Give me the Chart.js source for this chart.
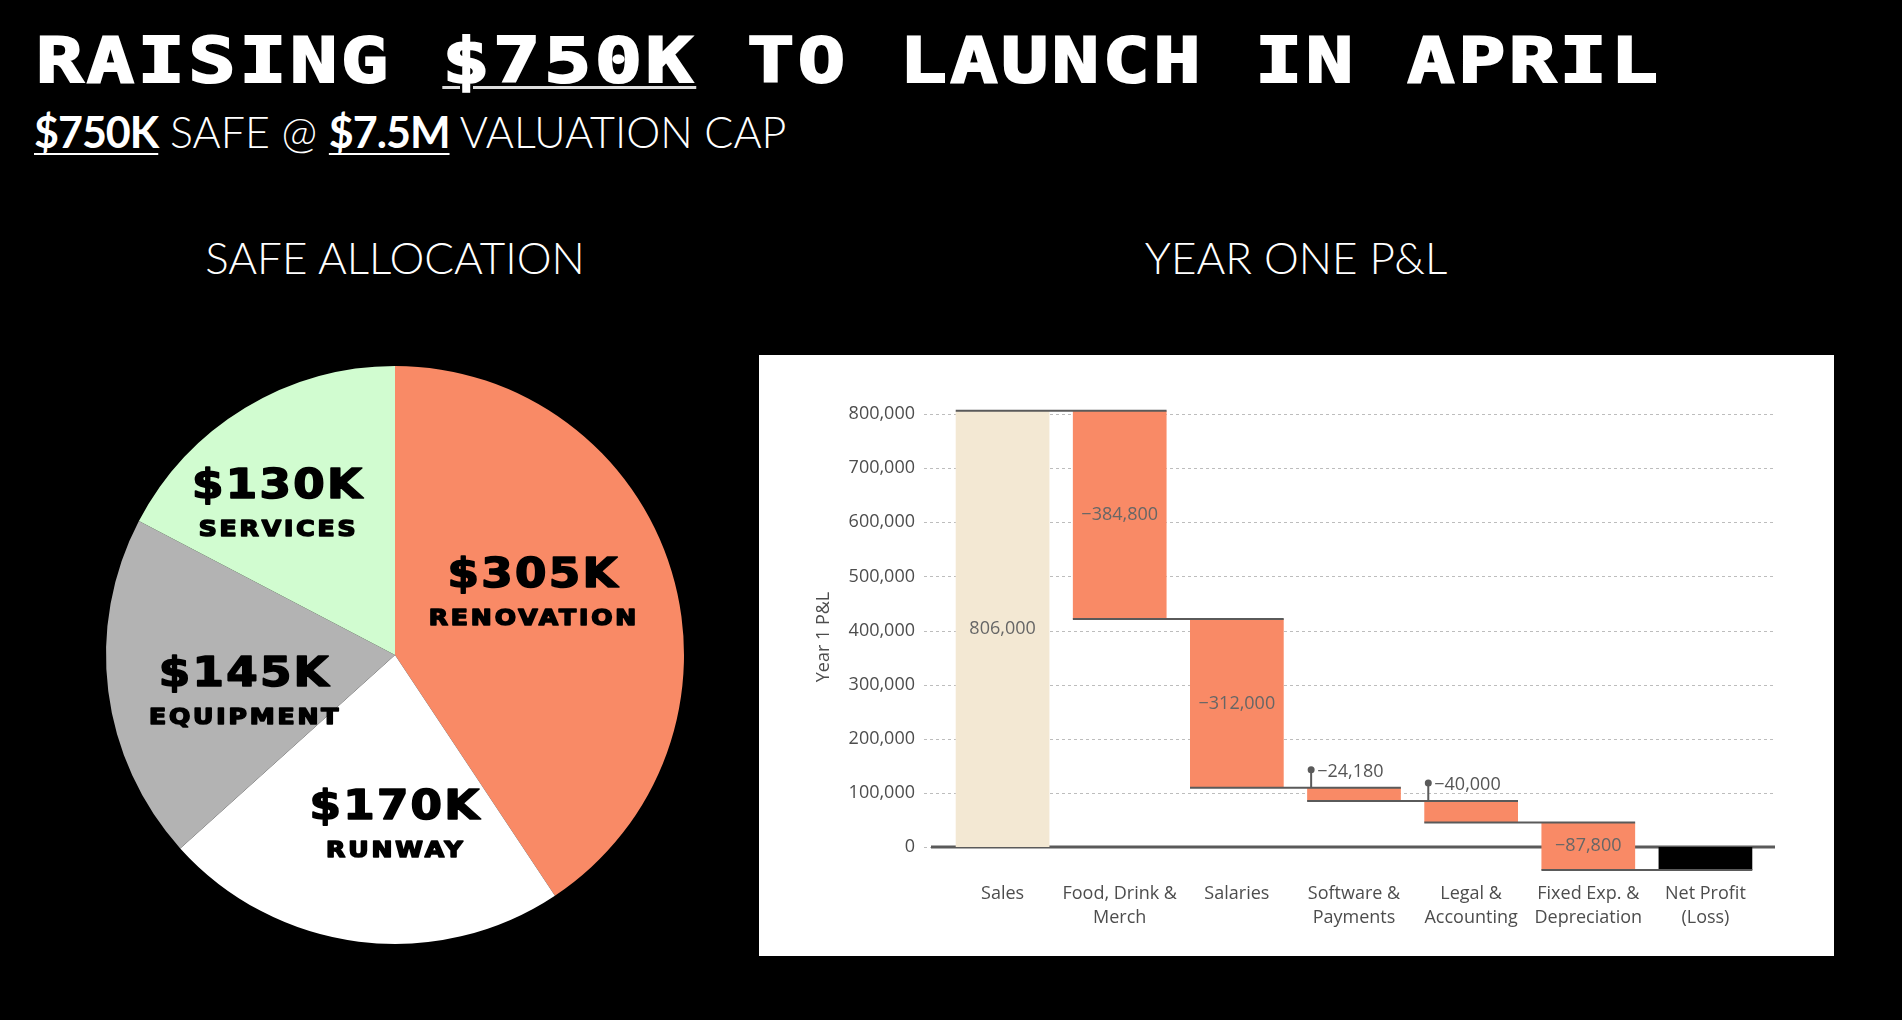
<!DOCTYPE html>
<html>
<head>
<meta charset="utf-8">
<script src="https://cdn.jsdelivr.net/npm/chart.js@4.4.1/dist/chart.umd.min.js"></script>
<style>
  html, body { margin: 0; padding: 0; background: #000; width: 1902px; height: 1020px; overflow: hidden; }
  #title {
    position: absolute; left: 36px; top: 29px; color: #fff; white-space: pre;
    font-family: 'DejaVu Sans Mono'; font-weight: bold; font-size: 63px; line-height: 1;
    letter-spacing: 2.7px; transform: scaleX(1.25); transform-origin: left top;
    -webkit-text-stroke: 2px #fff;
  }
  #title u { text-decoration-thickness: 3px; text-underline-offset: 4px; text-decoration-color: #ddd; }
  #sub {
    position: absolute; left: 34px; top: 110px; color: #fff; white-space: pre;
    font-family: Lato; font-weight: 300; font-size: 43px; line-height: 1;
  }
  #sub b { font-weight: 700; letter-spacing: -1px; text-decoration: underline; text-decoration-thickness: 2px; text-underline-offset: 5px; }
  .head {
    position: absolute; width: 600px; text-align: center; color: #fff;
    font-family: Lato; font-weight: 300; font-size: 44px; line-height: 1;
  }
  #pie { position: absolute; left: 95px; top: 355px; }
  #pl { position: absolute; left: 759px; top: 355px; background: #fff; }
</style>
</head>
<body>
<div id="title">RAISING <u>$750K</u> TO LAUNCH IN APRIL</div>
<div id="sub"><b>$750K</b> SAFE @ <b>$7.5M</b> VALUATION CAP</div>
<div class="head" style="left:95px; top:235px;">SAFE ALLOCATION</div>
<div class="head" style="left:996px; top:235px;">YEAR ONE P&amp;L</div>
<canvas id="pie" width="600" height="600"></canvas>
<canvas id="pl" width="1075" height="601"></canvas>
<script>
// SAFE allocation (in $K)
const allocNames = ['RENOVATION', 'RUNWAY', 'EQUIPMENT', 'SERVICES'];
const allocValues = [305, 170, 145, 130];
const allocColors = ['#F98A66', '#FFFFFF', '#B3B3B3', '#D1FCD0'];

// year one P&L
const plCategories = ['Sales', ['Food, Drink &', 'Merch'], 'Salaries', ['Software &', 'Payments'],
    ['Legal &', 'Accounting'], ['Fixed Exp. &', 'Depreciation'], ['Net Profit', '(Loss)']];
const plChanges = [806000, -384800, -312000, -24180, -40000, -87800];
const yTickValues = [0, 100000, 200000, 300000, 400000, 500000, 600000, 700000, 800000];

Chart.defaults.font.family = 'Open Sans';
Chart.defaults.animation = false;

// draws a heavy, slightly stretched label centred on x
function heavyText(ctx, text, x, y, size, stretch, spacing) {
    ctx.save();
    ctx.font = 'bold ' + size + 'px "DejaVu Sans"';
    ctx.letterSpacing = spacing + 'px';
    ctx.translate(x, y);
    ctx.scale(stretch, 1);
    ctx.textAlign = 'center';
    ctx.lineJoin = 'round';
    ctx.lineWidth = 1.6;
    ctx.strokeStyle = '#000';
    ctx.fillStyle = '#000';
    ctx.fillText(text, spacing / 2, 0);
    ctx.strokeText(text, spacing / 2, 0);
    ctx.restore();
}

const pieLabels = {
    id: 'pieLabels',
    afterDatasetsDraw(chart) {
        const ctx = chart.ctx;
        const dist = [0.52, 0.59, 0.54, 0.66];
        const shift = -7 * Math.PI / 180;
        chart.getDatasetMeta(0).data.forEach((arc, i) => {
            const mid = (arc.startAngle + arc.endAngle) / 2 + shift;
            const r = arc.outerRadius * dist[i];
            const cx = arc.x + Math.cos(mid) * r;
            const cy = arc.y + Math.sin(mid) * r;
            heavyText(ctx, '$' + allocValues[i] + 'K', cx, cy - 22 + 15, 40, 1.13, 2);
            heavyText(ctx, allocNames[i], cx, cy + 23 + 8, 22, 1.14, 2.5);
        });
    }
};

const pie_chart = new Chart(document.getElementById('pie').getContext('2d'), {
    type: 'pie',
    data: {
        labels: allocNames,
        datasets: [{
            data: allocValues,
            backgroundColor: allocColors,
            borderWidth: 0,
        }]
    },
    options: {
        responsive: false,
        devicePixelRatio: 1,
        layout: { padding: 11 },
        plugins: { legend: { display: false }, tooltip: { enabled: false } }
    },
    plugins: [pieLabels]
});

// floating bars for the waterfall
let running = 0;
const plBars = plChanges.map(v => {
    const b = [running, running + v];
    running += v;
    return b;
});
plBars.push([0, running]);
const plColors = plBars.map((b, i) => i === 0 ? '#F3E8D3' : (i === plBars.length - 1 ? '#000000' : '#F98A66'));

function fmt(v) {
    const s = Math.abs(v).toLocaleString('en-US');
    return v < 0 ? '\u2212' + s : s;
}

const waterfallDecor = {
    id: 'waterfallDecor',
    beforeDatasetsDraw(chart) {
        const ctx = chart.ctx, area = chart.chartArea, y = chart.scales.y;
        ctx.save();
        ctx.strokeStyle = '#BDBDBD';
        ctx.lineWidth = 1;
        ctx.setLineDash([3, 3]);
        yTickValues.forEach(v => {
            const py = Math.round(y.getPixelForValue(v)) + 0.5;
            ctx.beginPath();
            ctx.moveTo(area.left - 20, py);
            ctx.lineTo(area.right + 11, py);
            ctx.stroke();
        });
        ctx.setLineDash([]);
        ctx.strokeStyle = '#5A5A5A';
        ctx.lineWidth = 3;
        const p0 = y.getPixelForValue(0);
        ctx.beginPath();
        ctx.moveTo(area.left - 13, p0);
        ctx.lineTo(area.right + 11, p0);
        ctx.stroke();
        ctx.restore();
    },
    afterDatasetsDraw(chart) {
        const ctx = chart.ctx, y = chart.scales.y;
        const els = chart.getDatasetMeta(0).data;
        ctx.save();
        // connectors
        ctx.strokeStyle = '#5A5A5A';
        ctx.lineWidth = 2;
        for (let i = 0; i < els.length - 1; i++) {
            const py = y.getPixelForValue(plBars[i][1]);
            ctx.beginPath();
            ctx.moveTo(els[i].x - els[i].width / 2, py);
            ctx.lineTo(els[i + 1].x + els[i + 1].width / 2, py);
            ctx.stroke();
        }
        // value labels
        ctx.font = '18px "Open Sans"';
        ctx.textBaseline = 'middle';
        for (let i = 0; i < plChanges.length; i++) {
            const a = y.getPixelForValue(plBars[i][0]);
            const b = y.getPixelForValue(plBars[i][1]);
            const el = els[i];
            if (Math.abs(a - b) >= 30) {
                ctx.fillStyle = '#666';
                ctx.textAlign = 'center';
                ctx.fillText(fmt(plChanges[i]), el.x, (a + b) / 2);
            } else {
                const top = Math.min(a, b);
                const px = el.x - el.width / 2 + 4;
                ctx.strokeStyle = '#5A5A5A';
                ctx.fillStyle = '#5A5A5A';
                ctx.lineWidth = 2;
                ctx.beginPath();
                ctx.moveTo(px, top);
                ctx.lineTo(px, top - 18);
                ctx.stroke();
                ctx.beginPath();
                ctx.arc(px, top - 18, 3.5, 0, Math.PI * 2);
                ctx.fill();
                ctx.fillStyle = '#555';
                ctx.textAlign = 'left';
                ctx.fillText(fmt(plChanges[i]), px + 6, top - 16);
            }
        }
        ctx.restore();
    }
};

const pl_chart = new Chart(document.getElementById('pl').getContext('2d'), {
    type: 'bar',
    data: {
        labels: plCategories,
        datasets: [{
            label: 'Year 1 P&L',
            data: plBars,
            backgroundColor: plColors,
            borderWidth: 0,
            borderSkipped: false,
            barPercentage: 0.8,
            categoryPercentage: 1.0,
        }]
    },
    options: {
        responsive: false,
        devicePixelRatio: 1,
        layout: { padding: { left: 35, right: 70, top: 45, bottom: 22 } },
        scales: {
            x: {
                grid: { display: false, drawTicks: false },
                border: { display: false },
                afterFit(scale) { scale.height = 60; },
                ticks: {
                    color: '#4D4D4D',
                    font: { size: 18, lineHeight: 1.333 },
                    padding: 8,
                    maxRotation: 0,
                    autoSkip: false,
                }
            },
            y: {
                min: -50000,
                max: 826000,
                grid: { display: false, drawTicks: false },
                border: { display: false },
                afterFit(scale) { scale.width = 150; },
                afterBuildTicks(scale) {
                    scale.ticks = yTickValues.map(v => ({ value: v }));
                },
                ticks: {
                    color: '#4D4D4D',
                    font: { size: 18 },
                    padding: 29,
                    callback: v => v.toLocaleString('en-US'),
                },
                title: {
                    display: true,
                    text: 'Year 1 P&L',
                    color: '#4D4D4D',
                    font: { size: 18, lineHeight: 1.2 },
                    padding: { top: 19, bottom: 0 },
                }
            }
        },
        plugins: { legend: { display: false }, tooltip: { enabled: false } }
    },
    plugins: [waterfallDecor]
});
</script>
</body>
</html>
